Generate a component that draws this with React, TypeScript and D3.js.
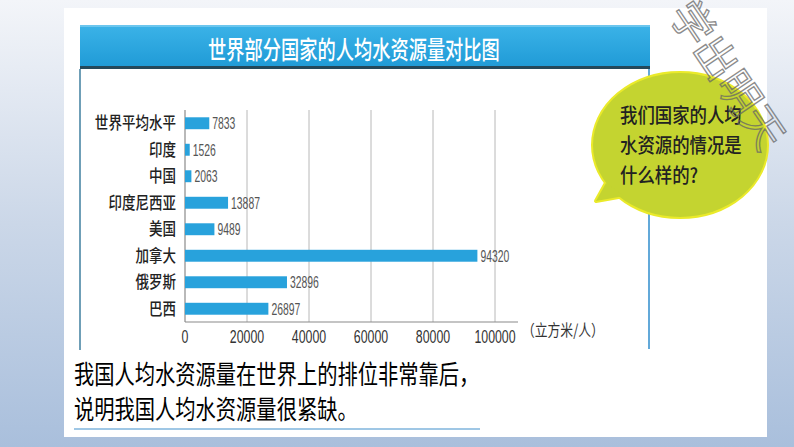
import React from "react";
import * as d3 from "d3";

const categories = ["世界平均水平", "印度", "中国", "印度尼西亚", "美国", "加拿大", "俄罗斯", "巴西"];
const values = [7833, 1526, 2063, 13887, 9489, 94320, 32896, 26897];
const ticks = [0, 20000, 40000, 60000, 80000, 100000];
const title = "世界部分国家的人均水资源量对比图";
const unitLabel = "（立方米/人）";
const bubbleLines = ["我们国家的人均", "水资源的情况是", "什么样的?"];
const bottomLines = ["我国人均水资源量在世界上的排位非常靠后，", "说明我国人均水资源量很紧缺。"];

const W = 794;
const H = 447;
const CJK = "'Noto Sans CJK SC', 'Noto Sans', sans-serif";
const NUM = "'Liberation Sans', Arial, sans-serif";

function SText({ x, y, sx, size, anchor = "start", fill = "#222", weight = 400, family = CJK, children }: any) {
  return (
    <g transform={`translate(${x},${y}) scale(${sx},1)`}>
      <text x={0} y={0} fontSize={size} textAnchor={anchor} fill={fill} fontWeight={weight} fontFamily={family}>
        {children}
      </text>
    </g>
  );
}

export default function App() {
  const x = d3.scaleLinear().domain([0, 100000]).range([185, 495]);
  const y = d3.scaleBand<string>().domain(categories).range([110, 322]).paddingInner(0.55).paddingOuter(0.275);
  const bw = y.bandwidth();

  return (
    <svg width={W} height={H} style={{ position: "absolute", left: 0, top: 0 }}>
      <defs>
        <linearGradient id="bg" x1="0" y1="0" x2="0" y2="1">
          <stop offset="0" stopColor="#f3f5f9" />
          <stop offset="0.5" stopColor="#cbd7e8" />
          <stop offset="1" stopColor="#a9bfdc" />
        </linearGradient>
        <linearGradient id="bar" x1="0" y1="0" x2="0" y2="1">
          <stop offset="0" stopColor="#3bb3e8" />
          <stop offset="1" stopColor="#1f9ad6" />
        </linearGradient>
      </defs>
      <rect x={0} y={0} width={W} height={H} fill="url(#bg)" />
      <rect x={64} y={8} width={703} height={429} fill="#ffffff" />

      {/* title bar */}
      <rect x={80} y={25} width={570} height={43} fill="url(#bar)" />
      <rect x={80} y={25} width={570} height={2} fill="#6cc6ee" />
      <rect x={80} y={66} width={570} height={3} fill="#24485a" />
      <SText x={208} y={59} sx={0.73} size={25} fill="#ffffff" weight={500}>
        {title}
      </SText>

      {/* frame lines */}
      <line x1={80} y1={69} x2={80} y2={350} stroke="#3f7f9f" strokeWidth={1.5} />
      <line x1={649} y1={69} x2={649} y2={349} stroke="#2f8ccc" strokeWidth={1.5} />

      {/* gridlines */}
      {ticks.slice(1).map((t) => (
        <line key={t} x1={x(t)} x2={x(t)} y1={110} y2={322} stroke="#b8b8b8" strokeWidth={1} />
      ))}
      <line x1={185} x2={185} y1={110} y2={322} stroke="#8a8a8a" strokeWidth={1.2} />
      <line x1={185} x2={518} y1={322} y2={322} stroke="#8a8a8a" strokeWidth={1.2} />

      {/* bars */}
      {categories.map((c, i) => (
        <g key={c}>
          <rect x={x(0)} y={y(c)!} width={x(values[i]) - x(0)} height={bw} fill="#28a2dc" />
          <SText x={x(values[i]) + 3} y={y(c)! + bw / 2 + 5.8} sx={0.65} size={16} fill="#555" family={NUM}>
            {values[i]}
          </SText>
          <SText x={176} y={y(c)! + bw / 2 + 6} sx={0.82} size={16.5} anchor="end" fill="#222" weight={500}>
            {c}
          </SText>
        </g>
      ))}

      {/* tick labels */}
      {ticks.map((t) => (
        <SText key={t} x={x(t)} y={343} sx={0.65} size={19} anchor="middle" fill="#333" family={NUM}>
          {t}
        </SText>
      ))}
      <SText x={522} y={336} sx={0.8} size={16} fill="#333">
        {unitLabel}
      </SText>

      {/* speech bubble */}
      <g>
        <ellipse cx={680} cy={145} rx={87} ry={72} fill="none" stroke="#eaea2a" strokeWidth={4} />
        <polygon points="606,183 596,201 624,196" fill="none" stroke="#eaea2a" strokeWidth={4} strokeLinejoin="round" />
        <ellipse cx={680} cy={145} rx={87} ry={72} fill="#c4d430" />
        <polygon points="606,183 596,201 624,196" fill="#c4d430" />
        {bubbleLines.map((l, i) => (
          <SText key={i} x={620} y={123 + i * 30} sx={0.87} size={20} fill="#222" weight={500}>
            {l}
          </SText>
        ))}
      </g>

      {/* watermark */}
      <g transform="translate(668,14) rotate(56)" opacity={0.75}>
        <text x={0} y={0} fontSize={42} fontFamily={CJK} fill="none" stroke="#666" strokeWidth={1.3}>
          学出明天
        </text>
      </g>

      {/* bottom text */}
      {bottomLines.map((l, i) => (
        <SText key={i} x={74} y={384 + i * 35} sx={0.78} size={26} fill="#000">
          {l}
        </SText>
      ))}
      <line x1={74} x2={480} y1={429} y2={429} stroke="#7fb4dc" strokeWidth={1.5} />
    </svg>
  );
}
